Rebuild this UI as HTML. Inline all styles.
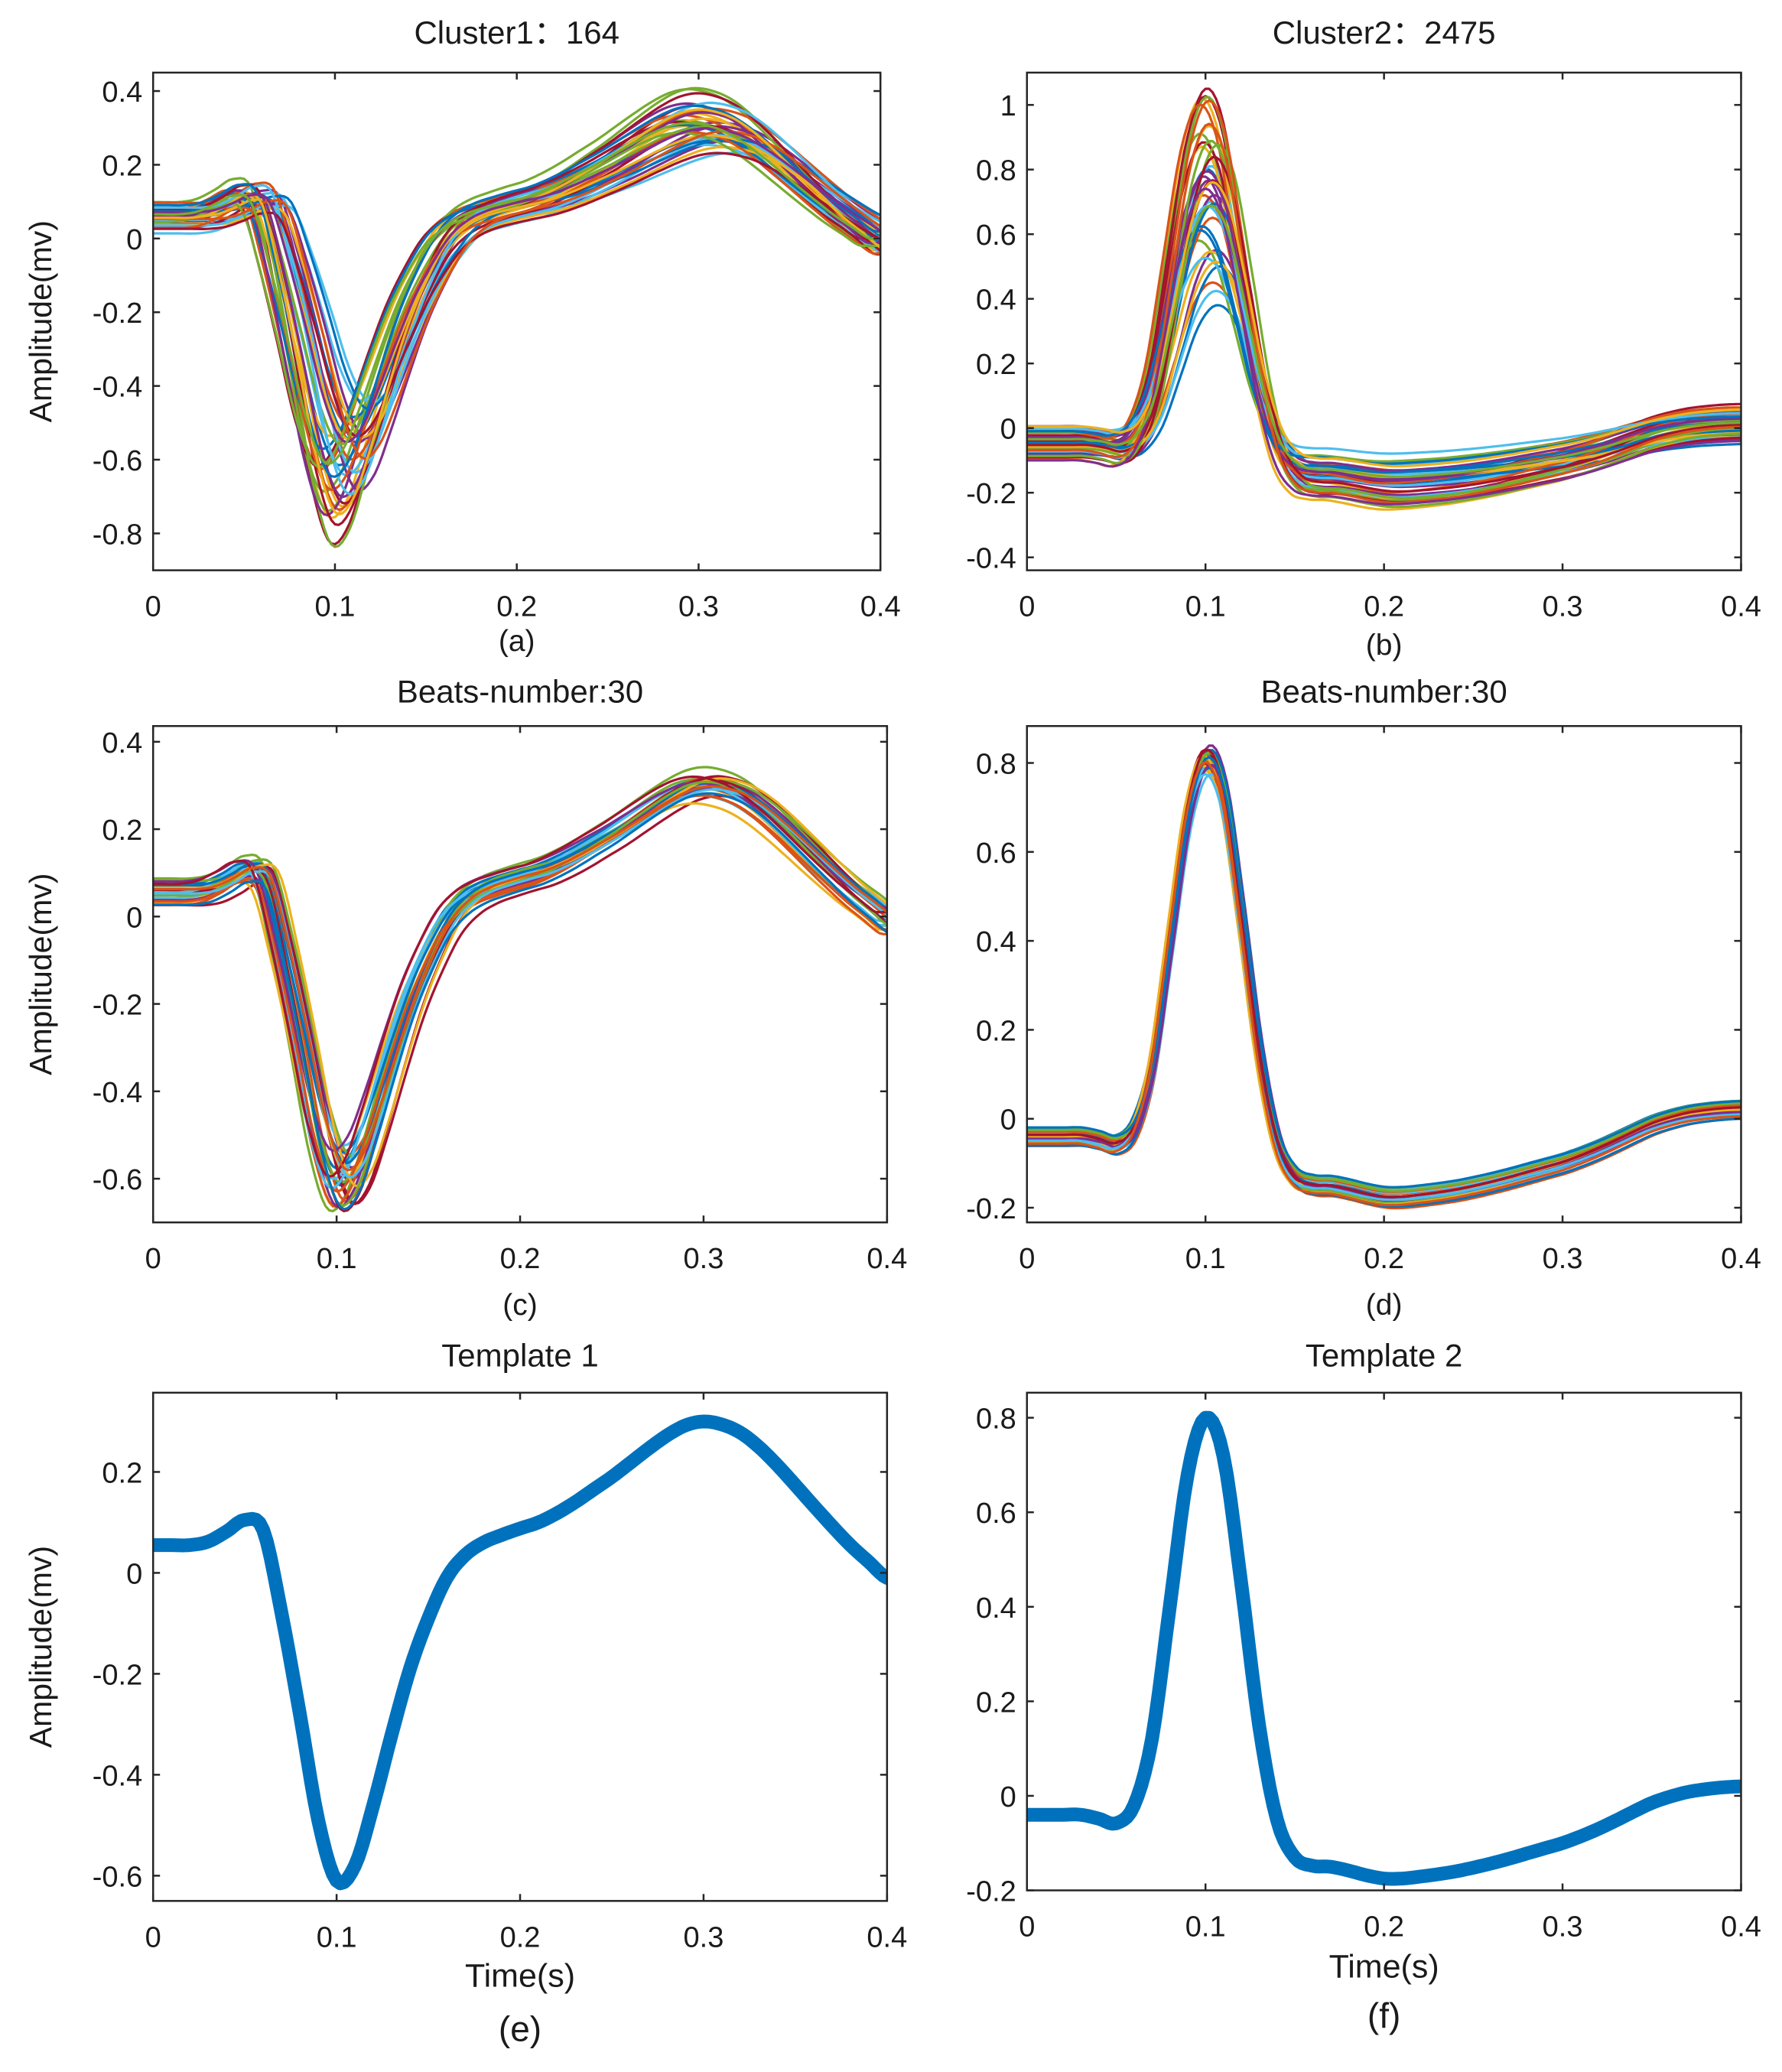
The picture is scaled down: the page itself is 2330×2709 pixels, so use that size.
<!DOCTYPE html>
<html><head><meta charset="utf-8">
<style>
html,body{margin:0;padding:0;background:#fff;}
svg{display:block;}
text{font-family:"Liberation Sans","Noto Sans CJK SC",sans-serif;fill:#1a1a1a;}
</style></head>
<body>
<svg id="fig" width="2330" height="2709" viewBox="0 0 2330 2709" xmlns="http://www.w3.org/2000/svg"></svg>
<script>
// ---- data ----
const xTicks = [0, 0.1, 0.2, 0.3, 0.4];
const xTickLabels = ["0", "0.1", "0.2", "0.3", "0.4"];
const templateTimes = [0,0.01,0.02,0.03,0.04,0.05,0.06,0.07,0.08,0.09,0.1,0.11,0.12,0.13,0.14,0.15,0.16,0.17,0.18,0.19,0.2,0.21,0.22,0.23,0.24,0.25,0.26,0.27,0.28,0.29,0.3,0.31,0.32,0.33,0.34,0.35,0.36,0.37,0.38,0.39,0.4];
const template1 = [0.055,0.055,0.055,0.062,0.082,0.105,0.085,-0.08,-0.28,-0.49,-0.61,-0.58,-0.46,-0.32,-0.19,-0.09,-0.01,0.035,0.06,0.075,0.088,0.1,0.118,0.14,0.165,0.19,0.218,0.246,0.272,0.292,0.3,0.294,0.278,0.25,0.214,0.174,0.133,0.093,0.055,0.022,-0.01];
const template2 = [-0.04,-0.04,-0.04,-0.04,-0.048,-0.058,-0.02,0.12,0.4,0.68,0.8,0.72,0.45,0.15,-0.05,-0.13,-0.148,-0.15,-0.158,-0.168,-0.175,-0.175,-0.171,-0.166,-0.16,-0.152,-0.143,-0.133,-0.122,-0.111,-0.1,-0.086,-0.07,-0.052,-0.033,-0.015,-0.002,0.008,0.014,0.018,0.02];

const scaleA = [1.0,0.85,1.2,0.95,1.1,0.78,1.3,0.9,1.05,1.15,0.88,1.25,0.98,1.02,0.82,1.18,0.92,1.08,1.36,0.74,1.12,0.96,1.04,0.86,1.22,0.94,1.0,1.28,0.8,1.06,0.9,1.14,0.99,1.16,0.84,1.1,0.97,1.2,0.93,1.01];
const shiftA = [0,0.005,-0.004,0.01,-0.008,0.012,-0.003,0.006,-0.01,0.002,0.015,-0.006,0.004,-0.012,0.008,0,-0.005,0.011,-0.002,0.018,0.003,-0.009,0.007,0.013,-0.007,0.001,0.009,-0.001,0.016,-0.004,0.005,0.002,-0.011,0.006,0.01,-0.003,0.014,0,0.004,-0.006];
const offsetA = [0,0.02,-0.02,0.03,-0.01,0.04,-0.03,0.01,0.02,-0.02,0,0.03,-0.04,0.01,0.02,-0.01,0.03,-0.02,0,0.01,-0.03,0.02,0.04,-0.01,0,0.02,-0.02,0.01,0.03,-0.03,0.01,0,-0.01,0.02,-0.02,0.03,0,-0.01,0.02,0.01];

const scaleB = [1.0,0.6,1.25,0.75,1.1,0.9,1.3,0.55,0.85,1.18,0.95,0.7,1.05,1.22,0.65,0.8,1.15,0.92,1.28,0.58,1.08,0.88,1.2,0.72,0.98,1.12,0.62,1.02,0.78,1.24,0.68,0.96,1.16,0.82,1.06,0.74,1.2,0.9,1.0,0.86];
const shiftB = [0,0.003,-0.003,0.005,-0.004,0.002,0,0.006,-0.002,0.001,0.004,-0.005,0.002,-0.001,0.007,0.003,-0.003,0.001,0,0.005,-0.002,0.004,-0.004,0.002,0,0.006,-0.001,0.003,-0.003,0.001,0.005,-0.002,0.002,0,0.004,-0.004,0.001,0.003,-0.001,0.002];
const offsetB = [0,-0.03,0.02,-0.05,0.03,-0.02,0.01,-0.06,0.04,-0.01,-0.04,0.02,-0.03,0.05,-0.02,0.01,-0.05,0.03,0,-0.04,0.02,-0.01,0.04,-0.03,0.01,-0.02,0.03,-0.05,0,0.02,-0.03,0.01,-0.04,0.03,-0.01,0.02,-0.02,0.04,-0.06,0];

const scaleC = [1.0,0.92,1.05,0.95,1.08,0.9,1.02,0.97,1.06,0.93,1.0,1.04,0.96,1.07,0.91,1.03,0.98,1.05,0.94,1.01,1.08,0.95,0.99,1.02,0.92,1.06,0.97,1.0,1.04,0.96];
const shiftC = [0,0.004,-0.003,0.006,-0.005,0.002,0.008,-0.002,0.003,-0.006,0.005,0,-0.004,0.007,0.001,-0.003,0.004,-0.001,0.006,-0.005,0.002,0.003,-0.002,0.009,-0.004,0.001,0.005,-0.006,0.002,0.004];
const offsetC = [0,0.02,-0.02,0.01,-0.01,0.03,-0.03,0.02,0,-0.02,0.01,0.03,-0.01,0,0.02,-0.03,0.01,-0.02,0.03,0,-0.01,0.02,-0.02,0.01,0.03,-0.01,0,0.02,-0.03,0.01];

const scaleD = [1.0,1.02,0.99,1.03,1.01,0.98,1.02,1.0,1.03,0.99,1.01,1.02,0.98,1.0,1.03,0.99,1.01,1.02,1.0,0.98,1.03,1.01,0.99,1.02,1.0,1.01,0.98,1.03,0.99,1.02];
const shiftD = [0,0.001,-0.001,0.002,-0.002,0.001,0,-0.001,0.002,0.001,-0.002,0,0.001,-0.001,0.002,0,-0.002,0.001,0,0.002,-0.001,0.001,0,-0.002,0.002,0.001,-0.001,0,0.001,-0.001];
const offsetD = [0,0.01,-0.01,0.015,-0.015,0.005,-0.005,0.02,-0.02,0.01,0,-0.01,0.015,-0.005,0.005,0.01,-0.015,0,0.02,-0.01,0.005,-0.02,0.01,0,-0.005,0.015,-0.01,0.005,0.02,-0.015];

const yTicksA = [-0.8,-0.6,-0.4,-0.2,0,0.2,0.4];
const yTicksB = [-0.4,-0.2,0,0.2,0.4,0.6,0.8,1];
const yTicksC = [-0.6,-0.4,-0.2,0,0.2,0.4];
const yTicksD = [-0.2,0,0.2,0.4,0.6,0.8];
const yTicksE = [-0.6,-0.4,-0.2,0,0.2];
const yTicksF = [-0.2,0,0.2,0.4,0.6,0.8];

// ---- rendering ----
const S = 2330/1350;
const NS = "http://www.w3.org/2000/svg";
const svg = document.getElementById('fig');
const colors = ["#0072BD","#D95319","#EDB120","#7E2F8E","#77AC30","#4DBEEE","#A2142F"];

function el(tag, attrs, parent){
  const e = document.createElementNS(NS, tag);
  for (const k in attrs) e.setAttribute(k, attrs[k]);
  (parent||svg).appendChild(e);
  return e;
}
function interp(tpl, t){
  const n = templateTimes.length;
  let f = t/0.01;
  if (f < 0) f = 0; if (f > n-1) f = n-1;
  const i = Math.min(Math.floor(f), n-2), u = f - i;
  const p0 = tpl[Math.max(i-1,0)], p1 = tpl[i], p2 = tpl[i+1], p3 = tpl[Math.min(i+2,n-1)];
  return 0.5*((2*p1)+(-p0+p2)*u+(2*p0-5*p1+4*p2-p3)*u*u+(-p0+3*p1-3*p2+p3)*u*u*u);
}
function fmt(v){ return (Math.abs(v)<1e-9) ? "0" : String(v); }

function panel(cfg){
  const L = cfg.l*S, R = cfg.r*S, T = cfg.t*S, B = cfg.b*S;
  const g = el('g', {});
  
  
  const xs = v => L + (v-0)/(0.4-0)*(R-L);
  const ys = v => B - (v-cfg.ymin)/(cfg.ymax-cfg.ymin)*(B-T);
  const cid = 'clip-'+cfg.name;
  const cp = el('clipPath', {id:cid}, g);
  el('rect', {x:L, y:T, width:R-L, height:B-T}, cp);
  const lines = el('g', {'clip-path':'url(#'+cid+')'}, g);
  
  
  for (let k=0; k<cfg.scale.length; k++){
    let d = '';
    for (let t=0; t<=0.4001; t+=0.002){
      const v = cfg.offset[k] + cfg.scale[k]*interp(cfg.tpl, t - cfg.shift[k]);
      d += (d?'L':'M') + xs(t).toFixed(1) + ',' + ys(v).toFixed(1);
    }
    const p = el('path', {d:d, fill:'none', stroke: cfg.thick ? '#0072BD' : colors[k%7], 'stroke-width': cfg.thick ? 18 : 3.2, 'stroke-linejoin':'round','stroke-linecap':'round'}, lines);
    
    
  }
  const box = el('rect', {x:L, y:T, width:R-L, height:B-T, fill:'none', stroke:'#262626', 'stroke-width':2.5}, g);
  
  
  const tl = 9;
  xTicks.forEach((v,i)=>{
    const x = xs(v);
    el('line',{x1:x,y1:B,x2:x,y2:B-tl,stroke:'#262626','stroke-width':2.5},g);
    el('line',{x1:x,y1:T,x2:x,y2:T+tl,stroke:'#262626','stroke-width':2.5},g);
    const tx = el('text',{x:x, y:B+60, 'font-size':38, 'text-anchor':'middle'},g);
    tx.textContent = xTickLabels[i];
    
    
  });
  cfg.yt.forEach(v=>{
    const y = ys(v);
    el('line',{x1:L,y1:y,x2:L+tl,y2:y,stroke:'#262626','stroke-width':2.5},g);
    el('line',{x1:R,y1:y,x2:R-tl,y2:y,stroke:'#262626','stroke-width':2.5},g);
    const tx = el('text',{x:L-14, y:y+14, 'font-size':38, 'text-anchor':'end'},g);
    tx.textContent = fmt(v);
    
    
  });
  const tt = el('text',{x:(L+R)/2, y:cfg.titleY*S+14, 'font-size':42, 'text-anchor':'middle'},g);
  tt.textContent = cfg.title;
  
  
  if (cfg.ylabel){
    const yl = el('text',{x:0, y:0, 'font-size':41, 'text-anchor':'middle', transform:'translate('+(32*S+12)+','+((T+B)/2)+') rotate(-90)'},g);
    yl.textContent = 'Amplitude(mv)';
    
    
  }
  if (cfg.xlabelY){
    const xl = el('text',{x:(L+R)/2, y:cfg.xlabelY*S+14, 'font-size':43, 'text-anchor':'middle'},g);
    xl.textContent = 'Time(s)';
    
    
  }
  const pl = el('text',{x:(L+R)/2, y:cfg.capY*S+14, 'font-size':cfg.capSize, 'text-anchor':'middle'},g);
  pl.textContent = cfg.cap;
  
  
}

panel({name:'panel-a', l:116, r:667, t:55, b:432, ymin:-0.9, ymax:0.45, yt:yTicksA, tpl:template1, scale:scaleA, shift:shiftA, offset:offsetA, title:'Cluster1\uFF1A164', titleY:25, ylabel:true, cap:'(a)', capY:485, capSize:39});
panel({name:'panel-b', l:778, r:1319, t:55, b:432, ymin:-0.44, ymax:1.1, yt:yTicksB, tpl:template2, scale:scaleB, shift:shiftB, offset:offsetB, title:'Cluster2\uFF1A2475', titleY:25, cap:'(b)', capY:488, capSize:39});
panel({name:'panel-c', l:116, r:672, t:550, b:926, ymin:-0.7, ymax:0.436, yt:yTicksC, tpl:template1, scale:scaleC, shift:shiftC, offset:offsetC, title:'Beats-number:30', titleY:524, ylabel:true, cap:'(c)', capY:988, capSize:39});
panel({name:'panel-d', l:778, r:1319, t:550, b:926, ymin:-0.233, ymax:0.883, yt:yTicksD, tpl:template2, scale:scaleD, shift:shiftD, offset:offsetD, title:'Beats-number:30', titleY:524, cap:'(d)', capY:988, capSize:39});
panel({name:'panel-e', l:116, r:672, t:1055, b:1440, ymin:-0.65, ymax:0.357, yt:yTicksE, tpl:template1, scale:[1], shift:[0], offset:[0], thick:true, title:'Template 1', titleY:1027, ylabel:true, xlabelY:1497, cap:'(e)', capY:1538, capSize:46});
panel({name:'panel-f', l:778, r:1319, t:1055, b:1432, ymin:-0.2, ymax:0.853, yt:yTicksF, tpl:template2, scale:[1], shift:[0], offset:[0], thick:true, title:'Template 2', titleY:1027, xlabelY:1490, cap:'(f)', capY:1528, capSize:46});
</script>
</body></html>
